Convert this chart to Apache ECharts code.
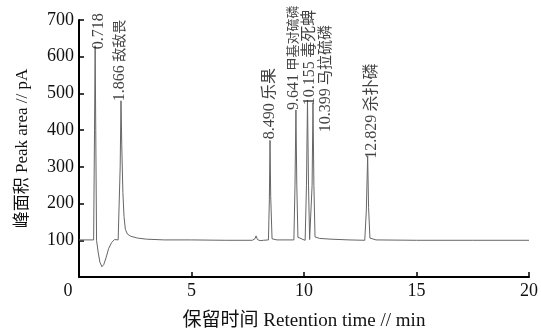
<!DOCTYPE html>
<html>
<head>
<meta charset="utf-8">
<script src="https://cdn.jsdelivr.net/npm/echarts@6/dist/echarts.min.js"></script>
<style>
  html, body { margin: 0; padding: 0; background: #fff; }
  #chart { width: 541px; height: 336px; }
</style>
</head>
<body>
<div id="chart"></div>
<script>
  // chromatogram trace: [retention time, signal]
  var trace = [
    [0, 101], [0.65, 101], [0.69, 400], [0.718, 630], [0.745, 400], [0.78, 100],
    [0.85, 68], [0.93, 40], [1.02, 28], [1.1, 34], [1.2, 52], [1.32, 78], [1.45, 94],
    [1.58, 102], [1.66, 104], [1.74, 101], [1.8, 103], [1.83, 300], [1.866, 480],
    [1.9, 360], [1.95, 230], [2.0, 165], [2.06, 130], [2.15, 117], [2.3, 111],
    [2.6, 106], [3.0, 103], [3.8, 101], [5.0, 101], [6.5, 100], [7.7, 100],
    [7.82, 104], [7.87, 112], [7.93, 102], [8.05, 99], [8.2, 100], [8.42, 101],
    [8.46, 210], [8.49, 372], [8.52, 220], [8.58, 104], [8.8, 101], [9.55, 101],
    [9.6, 250], [9.641, 455], [9.68, 250], [9.73, 108], [9.82, 106], [9.92, 103],
    [10.05, 100], [10.11, 250], [10.155, 482], [10.2, 250], [10.25, 102],
    [10.32, 104], [10.36, 250], [10.399, 475], [10.44, 250], [10.49, 109],
    [10.7, 105], [11.2, 103], [12.0, 101], [12.7, 100], [12.77, 180],
    [12.829, 330], [12.87, 190], [12.93, 106], [13.2, 101], [15, 100],
    [17.5, 100], [20, 100]
  ]

  // peak labels: retention time, name, and where the label starts (signal units)
  var peakTimes = [0.718, 1.866, 8.490, 9.641, 10.155, 10.399, 12.829]
  var peakNames = ['', '敌敌畏', '乐果', '甲基对硫磷', '毒死蜱', '马拉硫磷', '杀扑磷']
  var labelBase = [620, 479, 375, 455, 468, 394, 322]

  var xTicks = [0, 5, 10, 15, 20]
  var yTicks = [0, 100, 200, 300, 400, 500, 600, 700]

  // label tweaks (px): sideways shift, size of the chinese part
  var labelShift = [4, -1, 0, -2, 2, 13, 4]
  var cjkSize = [14, 14, 16, 13, 16, 15, 16]

  var font = "'Liberation Serif', 'Noto Sans CJK SC', serif"

  var peakData = peakTimes.map(function (t, i) {
    var txt = '{n|' + t.toFixed(3) + '}'
    if (peakNames[i]) txt += ' {c' + i + '|' + peakNames[i] + '}'
    return {
      value: [t, labelBase[i]],
      label: { formatter: txt, offset: [0, labelShift[i]] }
    }
  })

  var rich = { n: { fontFamily: font, fontSize: 16, color: '#111' } }
  cjkSize.forEach(function (s, i) {
    rich['c' + i] = { fontFamily: font, fontSize: s, color: '#111' }
  })

  var myChart = echarts.init(document.getElementById('chart'))
  var option = {
    animation: false,
    backgroundColor: '#fff',
    grid: { left: 79, right: 10, top: 20, bottom: 53 },
    xAxis: {
      type: 'value',
      min: xTicks[0],
      max: xTicks[xTicks.length - 1],
      interval: 5,
      name: '保留时间 Retention time // min',
      nameLocation: 'middle',
      nameGap: 35,
      nameTextStyle: { fontFamily: font, fontSize: 19, color: '#111' },
      axisLine: { lineStyle: { color: '#000', width: 2 } },
      axisTick: { inside: true, length: 5, lineStyle: { color: '#000', width: 1.5 } },
      axisLabel: {
        margin: 5,
        fontFamily: font,
        fontSize: 18,
        color: '#111',
        formatter: function (v) { return v === 0 ? '{o|0}' : String(v) },
        rich: { o: { fontFamily: font, fontSize: 18, color: '#111', padding: [0, 22, 0, 0] } }
      },
      splitLine: { show: false }
    },
    yAxis: {
      type: 'value',
      min: yTicks[0],
      max: yTicks[yTicks.length - 1],
      interval: 100,
      name: '峰面积 Peak area // pA',
      nameLocation: 'middle',
      nameGap: 48,
      nameTextStyle: { fontFamily: font, fontSize: 17, color: '#111' },
      axisLine: { show: true, lineStyle: { color: '#000', width: 2 } },
      axisTick: { show: true, inside: true, length: 5, lineStyle: { color: '#000', width: 1.5 } },
      axisLabel: { showMinLabel: false, margin: 5, fontFamily: font, fontSize: 18, color: '#111' },
      splitLine: { show: false }
    },
    series: [
      {
        name: 'trace',
        type: 'line',
        data: trace,
        symbol: 'none',
        lineStyle: { color: '#666', width: 1 },
        z: 2
      },
      {
        name: 'peaks',
        type: 'scatter',
        data: peakData,
        symbolSize: 0,
        silent: true,
        label: {
          show: true,
          position: 'top',
          distance: 0,
          rotate: 90,
          align: 'left',
          verticalAlign: 'middle',
          rich: rich
        },
        z: 3
      }
    ]
  }
  myChart.setOption(option)
</script>
</body>
</html>
